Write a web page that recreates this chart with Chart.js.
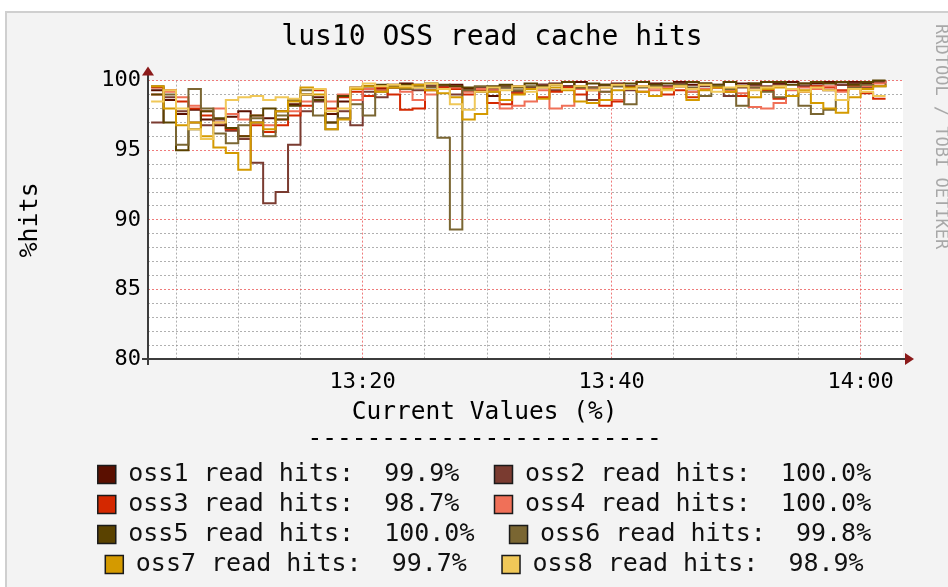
<!DOCTYPE html>
<html lang="en">
<head>
<meta charset="UTF-8" />
<title>lus10 OSS read cache hits</title>
<script src="https://cdn.jsdelivr.net/npm/chart.js"></script>
<style>
  html, body { margin: 0; padding: 0; background: #fff; }
</style>
</head>
<body>
<canvas id="hitsChart" width="948" height="587"></canvas>
<script>
// sample times, minutes after 13:00 (one sample per minute)
const minutes = [3, 4, 5, 6, 7, 8, 9, 10, 11, 12,
  13, 14, 15, 16, 17, 18, 19, 20, 21, 22,
  23, 24, 25, 26, 27, 28, 29, 30, 31, 32,
  33, 34, 35, 36, 37, 38, 39, 40, 41, 42,
  43, 44, 45, 46, 47, 48, 49, 50, 51, 52,
  53, 54, 55, 56, 57, 58, 59, 60, 61, 62];

const oss1 = [99.3, 98.6, 97.6, 97.9, 97.2, 96.8, 97.4, 97.8, 97.0, 97.3,
  97.8, 98.3, 99.0, 98.8, 97.6, 98.5, 99.5, 99.6, 99.4, 99.7,
  99.8, 99.7, 99.6, 99.5, 99.7, 99.4, 99.3, 98.9, 99.5, 99.6,
  99.4, 99.7, 99.8, 99.6, 99.9, 99.5, 99.7, 99.8, 99.6, 99.9,
  99.8, 99.6, 99.9, 99.7, 99.8, 99.5, 99.9, 99.8, 99.7, 99.9,
  99.8, 99.9, 99.6, 99.8, 99.9, 99.7, 99.9, 99.8, 99.9, 99.9];
const oss2 = [97.0, 98.8, 97.8, 97.0, 96.8, 97.2, 96.4, 95.8, 94.1, 91.2,
  92.0, 95.4, 97.8, 98.5, 97.0, 97.8, 96.8, 99.2, 98.8, 99.5,
  99.5, 99.3, 99.6, 99.6, 99.0, 99.3, 99.5, 99.4, 99.6, 99.2,
  99.5, 99.7, 99.3, 99.6, 99.4, 98.6, 99.5, 99.7, 99.3, 99.6,
  99.7, 99.5, 99.8, 99.2, 99.6, 99.7, 98.9, 99.5, 99.8, 99.6,
  99.7, 99.4, 99.8, 99.6, 99.3, 99.7, 99.8, 99.5, 99.9, 100.0];
const oss3 = [99.5, 99.3, 98.5, 98.0, 97.5, 97.0, 96.5, 96.0, 96.8, 96.3,
  96.8, 97.5, 98.2, 99.3, 98.0, 98.8, 99.2, 98.9, 99.5, 99.0,
  97.9, 98.0, 99.3, 99.5, 99.4, 99.0, 99.3, 98.4, 98.3, 99.1,
  99.4, 98.8, 99.2, 99.5, 99.0, 99.3, 98.2, 98.5, 99.4, 99.2,
  99.5, 99.0, 99.3, 98.8, 99.4, 99.5, 99.2, 98.9, 99.5, 99.3,
  98.7, 99.4, 99.2, 99.6, 99.5, 99.3, 99.6, 99.1, 98.7, 98.7];
const oss4 = [99.0, 99.2, 98.8, 98.2, 97.8, 98.0, 97.6, 97.2, 97.5, 96.8,
  97.2, 97.8, 98.5, 99.4, 98.5, 99.0, 98.6, 99.4, 99.3, 99.5,
  99.2, 98.6, 99.0, 99.4, 99.5, 99.2, 99.4, 99.3, 98.0, 98.2,
  98.5, 99.3, 98.0, 98.2, 99.4, 99.5, 99.2, 98.6, 99.4, 99.6,
  99.3, 99.5, 99.6, 99.2, 99.4, 99.5, 99.3, 99.1, 98.1, 98.0,
  98.4, 99.3, 99.5, 99.4, 99.6, 99.2, 99.5, 99.6, 99.8, 100.0];
const oss5 = [99.0, 97.0, 95.0, 96.5, 97.8, 97.3, 96.6, 96.0, 97.5, 98.0,
  97.2, 98.2, 99.0, 98.6, 97.0, 98.9, 99.4, 99.6, 99.7, 99.5,
  99.7, 99.6, 99.8, 99.7, 99.6, 99.5, 99.2, 99.6, 99.7, 99.5,
  99.8, 99.6, 99.7, 99.9, 99.5, 99.8, 99.7, 99.6, 99.8, 99.9,
  99.7, 99.8, 99.6, 99.9, 99.8, 99.7, 99.9, 99.6, 99.8, 99.9,
  99.9, 99.7, 99.8, 99.9, 99.8, 99.9, 99.7, 99.9, 100.0, 100.0];
const oss6 = [99.6, 99.0, 95.4, 99.4, 98.0, 96.2, 95.5, 96.8, 97.3, 96.0,
  97.5, 98.6, 99.3, 97.5, 96.5, 97.3, 98.3, 97.5, 99.2, 99.6,
  99.4, 99.5, 99.5, 95.9, 89.3, 99.3, 99.6, 99.2, 99.5, 99.3,
  99.6, 99.5, 99.7, 99.4, 99.6, 99.5, 99.2, 99.6, 98.3, 99.5,
  99.6, 99.4, 99.7, 99.5, 98.9, 99.6, 99.4, 98.2, 99.5, 99.2,
  98.8, 99.4, 98.2, 97.6, 97.9, 98.6, 99.5, 99.7, 99.6, 99.8];
const oss7 = [99.6, 98.0, 96.8, 97.0, 96.0, 95.2, 94.8, 93.6, 97.0, 96.5,
  97.8, 98.5, 99.5, 99.0, 96.5, 97.2, 99.4, 99.6, 99.2, 99.5,
  99.5, 99.7, 99.3, 99.1, 98.8, 97.2, 97.6, 99.2, 98.6, 99.0,
  99.4, 98.7, 99.5, 99.3, 98.5, 98.4, 98.6, 99.3, 99.5, 99.2,
  98.9, 99.4, 99.6, 98.6, 99.3, 99.5, 99.2, 99.6, 98.8, 99.4,
  99.5, 98.9, 99.3, 98.4, 98.0, 97.7, 98.8, 99.4, 99.6, 99.7];
const oss8 = [98.5, 99.3, 98.0, 96.5, 95.8, 97.0, 98.6, 98.8, 98.9, 98.6,
  98.8, 98.7, 99.0, 99.4, 97.8, 98.0, 99.5, 99.8, 99.6, 99.7,
  99.6, 99.5, 99.8, 99.4, 98.3, 97.9, 99.2, 99.5, 99.3, 99.6,
  99.2, 99.5, 99.7, 99.4, 99.6, 99.3, 99.5, 99.7, 99.4, 99.6,
  99.5, 99.3, 99.6, 99.4, 99.7, 99.2, 99.5, 99.6, 99.3, 99.5,
  99.6, 99.4, 99.2, 99.5, 99.3, 98.6, 99.4, 99.2, 98.9, 98.9];

const seriesNames = ['oss1', 'oss2', 'oss3', 'oss4', 'oss5', 'oss6', 'oss7', 'oss8'];
const seriesData = [oss1, oss2, oss3, oss4, oss5, oss6, oss7, oss8];
const currentValues = ['99.9', '100.0', '98.7', '100.0', '100.0', '99.8', '99.7', '98.9'];
const colors = ['#5a0f00', '#7a3b30', '#d42800', '#f07058', '#5a4200', '#7a6632', '#d49a00', '#f0c858'];

const xGridMinutes = [5, 10, 15, 20, 25, 30, 35, 40, 45, 50, 55, 60];
const xTickLabels = { 20: '13:20', 40: '13:40', 60: '14:00' };
const yTickLabels = [80, 85, 90, 95, 100];

const mono = 'DejaVu Sans Mono';
Chart.defaults.font.family = mono;
Chart.defaults.color = '#000';

// two entries per legend row; trailing blanks keep the rrdtool spacing
function legendText(i) {
  const t = seriesNames[i] + ' read hits:  ' + currentValues[i] + '%';
  return i % 2 === 0 ? t + '  ' : t + ' ';
}

const rrdFrame = {
  id: 'rrdFrame',
  beforeDraw(chart) {
    const { ctx, chartArea: a } = chart;
    ctx.save();
    ctx.fillStyle = '#ffffff';
    ctx.fillRect(0, 0, chart.width, chart.height);
    ctx.fillStyle = '#f3f3f3';
    ctx.fillRect(6, 11, chart.width - 6, chart.height - 11);
    ctx.strokeStyle = '#cfcfcf';
    ctx.lineWidth = 2;
    ctx.beginPath();
    ctx.moveTo(6, chart.height);
    ctx.lineTo(6, 12);
    ctx.lineTo(chart.width, 12);
    ctx.stroke();
    ctx.fillStyle = '#ffffff';
    ctx.fillRect(a.left, a.top, a.right - a.left, a.bottom - a.top);
    ctx.restore();
  },
  afterDraw(chart) {
    const { ctx, chartArea: a } = chart;
    ctx.save();
    // axes
    ctx.strokeStyle = '#3c3c3c';
    ctx.lineWidth = 2;
    ctx.beginPath();
    ctx.moveTo(a.left, a.bottom + 6);
    ctx.lineTo(a.left, a.top - 8);
    ctx.moveTo(a.left - 6, a.bottom);
    ctx.lineTo(a.right + 2, a.bottom);
    ctx.stroke();
    // arrows
    ctx.fillStyle = '#8b1a1a';
    ctx.beginPath();
    ctx.moveTo(a.left - 6, a.top - 5);
    ctx.lineTo(a.left + 6, a.top - 5);
    ctx.lineTo(a.left, a.top - 14);
    ctx.closePath();
    ctx.fill();
    ctx.beginPath();
    ctx.moveTo(a.right + 2, a.bottom - 6);
    ctx.lineTo(a.right + 2, a.bottom + 6);
    ctx.lineTo(a.right + 11, a.bottom);
    ctx.closePath();
    ctx.fill();
    // watermark
    ctx.translate(940, 24);
    ctx.rotate(Math.PI / 2);
    ctx.fillStyle = '#a8a8a8';
    ctx.font = '17px "' + mono + '"';
    ctx.textAlign = 'left';
    ctx.textBaseline = 'middle';
    ctx.fillText('RRDTOOL / TOBI OETIKER', 0, 0);
    ctx.restore();
  }
};

const redGrid = 'rgba(235, 90, 90, 0.8)';
const grayGrid = 'rgba(150, 150, 150, 0.75)';

new Chart(document.getElementById('hitsChart'), {
  type: 'line',
  data: {
    labels: minutes,
    datasets: seriesNames.map((name, i) => ({
      label: name + ' read hits',
      data: minutes.map((m, j) => ({ x: m, y: seriesData[i][j] })),
      borderColor: colors[i],
      borderWidth: 2,
      stepped: 'before',
      pointRadius: 0,
      fill: false,
      clip: false,
      order: seriesNames.length - i
    }))
  },
  options: {
    responsive: false,
    animation: false,
    devicePixelRatio: 1,
    layout: { padding: { left: 36, right: 0, top: 0, bottom: 0 } },
    plugins: {
      tooltip: { enabled: false },
      title: {
        display: true,
        text: 'lus10 OSS read cache hits',
        font: { family: mono, size: 28, weight: 'normal' },
        color: '#000',
        padding: { top: 21, bottom: 26 }
      },
      subtitle: {
        display: true,
        position: 'bottom',
        weight: 500,
        text: ['Current Values (%) ', '------------------------ '],
        font: { family: mono, size: 24.5, weight: 'normal', lineHeight: 1.1 },
        color: '#000',
        padding: { top: 4.5, bottom: 3.5 }
      },
      legend: {
        position: 'bottom',
        labels: {
          font: { family: mono, size: 25 },
          color: '#111',
          boxWidth: 18,
          boxHeight: 18,
          padding: 5,
          generateLabels: () => seriesNames.map((name, i) => ({
            text: legendText(i),
            fillStyle: colors[i],
            strokeStyle: '#1a1a1a',
            lineWidth: 1.5,
            hidden: false,
            datasetIndex: i,
            fontColor: '#111'
          }))
        }
      }
    },
    scales: {
      x: {
        type: 'linear',
        min: 2.75,
        max: 63.4,
        afterBuildTicks: s => { s.ticks = xGridMinutes.map(v => ({ value: v })); },
        afterFit: s => { s.height = 36; },
        ticks: {
          autoSkip: false,
          maxRotation: 0,
          padding: 10,
          font: { family: mono, size: 22 },
          color: '#000',
          callback: v => xTickLabels[v] || ''
        },
        grid: {
          drawTicks: false,
          lineWidth: 1,
          borderDash: [2, 2],
          color: c => (c.tick && c.tick.value % 20 === 0 ? redGrid : grayGrid)
        },
        border: { display: false, dash: [2, 2] }
      },
      y: {
        min: 80,
        max: 100,
        afterBuildTicks: s => {
          const t = [];
          for (let v = 80; v <= 100; v++) t.push({ value: v });
          s.ticks = t;
        },
        afterFit: s => { s.width = 112; },
        ticks: {
          autoSkip: false,
          padding: 7,
          font: { family: mono, size: 22 },
          color: '#000',
          callback: v => (yTickLabels.includes(v) ? String(v) : '')
        },
        grid: {
          drawTicks: false,
          lineWidth: 1,
          borderDash: [2, 2],
          color: c => (c.tick && c.tick.value % 5 === 0 ? redGrid : grayGrid)
        },
        border: { display: false, dash: [2, 2] },
        title: {
          display: true,
          text: '%hits',
          font: { family: mono, size: 25 },
          color: '#000',
          padding: { top: -21, bottom: 0 }
        }
      },
      y2: {
        position: 'right',
        display: true,
        afterFit: s => { s.width = 45; },
        ticks: { display: false },
        grid: { display: false, drawTicks: false },
        border: { display: false }
      }
    }
  },
  plugins: [rrdFrame]
});
</script>
</body>
</html>
